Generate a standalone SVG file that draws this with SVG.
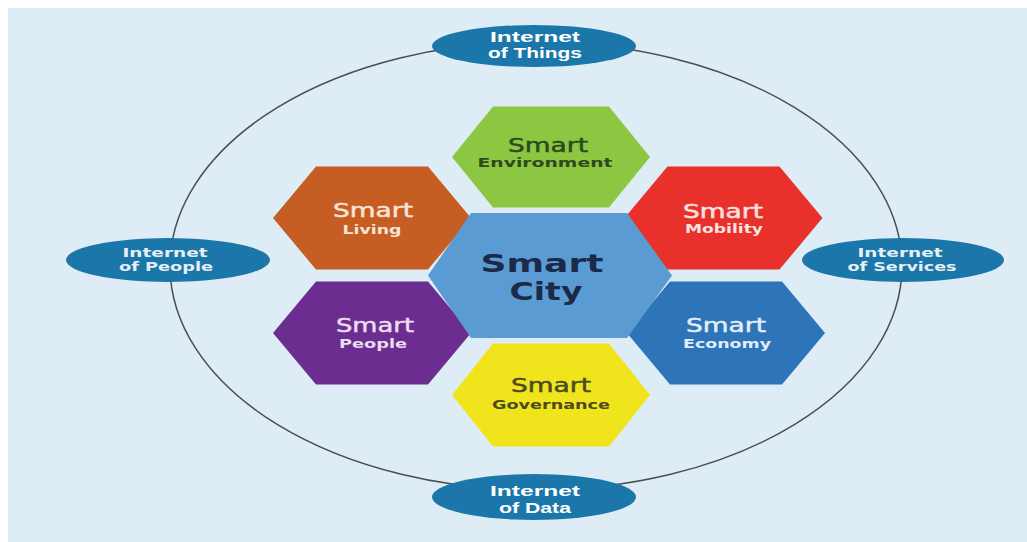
<svg xmlns="http://www.w3.org/2000/svg" width="1027" height="542" viewBox="0 0 1027 542">
  <style>
    .bg { fill: #ffffff; }
    .panel { fill: #ddecf5; }
    .ring { fill: none; stroke: #4d4d4d; stroke-width: 1.5; }
    .iox { fill: #1b77a9; }
    .iot { font-family: "Liberation Sans", Arial, sans-serif; font-weight: bold; font-size: 15px; fill: #ffffff; text-anchor: middle; }
    .iow { font-family: "DejaVu Sans", sans-serif; font-weight: bold; font-size: 13px; fill: #e6eff5; text-anchor: middle; }
    .big { font-family: "DejaVu Sans", sans-serif; font-size: 20px; text-anchor: middle; stroke-width: 0.5; }
    .sub { font-family: "DejaVu Sans", sans-serif; font-weight: bold; font-size: 13px; text-anchor: middle; }
    .city { font-family: "DejaVu Sans", sans-serif; font-weight: bold; font-size: 24px; fill: #1c2a48; text-anchor: middle; }
  </style>
  <rect class="bg" x="0" y="0" width="1027" height="542"/>
  <rect class="panel" x="8" y="8" width="1019" height="534"/>

  <g id="connectors">
    <ellipse class="ring" cx="536" cy="266" rx="366" ry="224"/>
  </g>

  <g id="iot">
    <ellipse class="iox" cx="534" cy="46" rx="102" ry="21"/>
    <text class="iot" x="535" y="42" textLength="90" lengthAdjust="spacingAndGlyphs">Internet</text>
    <text class="iot" x="535" y="58" textLength="94" lengthAdjust="spacingAndGlyphs">of Things</text>
  </g>
  <g id="iop">
    <ellipse class="iox" cx="168" cy="260" rx="102" ry="22"/>
    <text class="iow" x="165" y="257" textLength="85" lengthAdjust="spacingAndGlyphs">Internet</text>
    <text class="iow" x="166" y="271" textLength="94" lengthAdjust="spacingAndGlyphs">of People</text>
  </g>
  <g id="ios">
    <ellipse class="iox" cx="903" cy="260" rx="101" ry="22"/>
    <text class="iow" x="900" y="257" textLength="85" lengthAdjust="spacingAndGlyphs">Internet</text>
    <text class="iow" x="902" y="271" textLength="109" lengthAdjust="spacingAndGlyphs">of Services</text>
  </g>
  <g id="iod">
    <ellipse class="iox" cx="534" cy="497" rx="102" ry="23"/>
    <text class="iot" x="535" y="496" textLength="90" lengthAdjust="spacingAndGlyphs">Internet</text>
    <text class="iot" x="535" y="513" textLength="72" lengthAdjust="spacingAndGlyphs">of Data</text>
  </g>

  <g id="environment">
    <polygon fill="#8dc641" points="452,157 493,106.5 609,106.5 650,157 609,207.5 493,207.5"/>
    <text class="big" x="548" y="152" fill="#2b4a1f" stroke="#2b4a1f" textLength="80" lengthAdjust="spacingAndGlyphs">Smart</text>
    <text class="sub" x="545" y="167" fill="#2b4a1f" textLength="135" lengthAdjust="spacingAndGlyphs">Environment</text>
  </g>
  <g id="living">
    <polygon fill="#c65d23" points="273,218 316,166.5 428,166.5 471,218 428,269.5 316,269.5"/>
    <text class="big" x="373" y="217" fill="#f7e4d6" stroke="#f7e4d6" textLength="80" lengthAdjust="spacingAndGlyphs">Smart</text>
    <text class="sub" x="372" y="234" fill="#f7e4d6" textLength="59" lengthAdjust="spacingAndGlyphs">Living</text>
  </g>
  <g id="mobility">
    <polygon fill="#e8312a" points="624.5,218 667.5,166.5 779.5,166.5 822.5,218 779.5,269.5 667.5,269.5"/>
    <text class="big" x="723" y="218" fill="#f9e2e0" stroke="#f9e2e0" textLength="80" lengthAdjust="spacingAndGlyphs">Smart</text>
    <text class="sub" x="724" y="233" fill="#f9e2e0" textLength="78" lengthAdjust="spacingAndGlyphs">Mobility</text>
  </g>
  <g id="people">
    <polygon fill="#6b2d8f" points="273,333 316,281.5 428,281.5 471,333 428,384.5 316,384.5"/>
    <text class="big" x="375" y="332" fill="#ecdcf2" stroke="#ecdcf2" textLength="78" lengthAdjust="spacingAndGlyphs">Smart</text>
    <text class="sub" x="373" y="348" fill="#ecdcf2" textLength="68" lengthAdjust="spacingAndGlyphs">People</text>
  </g>
  <g id="economy">
    <polygon fill="#2d74b8" points="627,333 670,281.5 782,281.5 825,333 782,384.5 670,384.5"/>
    <text class="big" x="726" y="332" fill="#e2edf8" stroke="#e2edf8" textLength="80" lengthAdjust="spacingAndGlyphs">Smart</text>
    <text class="sub" x="727" y="348" fill="#e2edf8" textLength="88" lengthAdjust="spacingAndGlyphs">Economy</text>
  </g>
  <g id="governance">
    <polygon fill="#f0e51d" points="452,395 493,343.5 609,343.5 650,395 609,446.5 493,446.5"/>
    <text class="big" x="551" y="392" fill="#4b4a1f" stroke="#4b4a1f" textLength="80" lengthAdjust="spacingAndGlyphs">Smart</text>
    <text class="sub" x="551" y="409" fill="#4b4a1f" textLength="118" lengthAdjust="spacingAndGlyphs">Governance</text>
  </g>
  <g id="city">
    <polygon fill="#5a9bd4" points="428,275.5 471,213 627,213 672,275.5 627,338 471,338"/>
    <text class="city" x="542" y="272" textLength="123" lengthAdjust="spacingAndGlyphs">Smart</text>
    <text class="city" x="546" y="300" textLength="73" lengthAdjust="spacingAndGlyphs">City</text>
  </g>
</svg>
